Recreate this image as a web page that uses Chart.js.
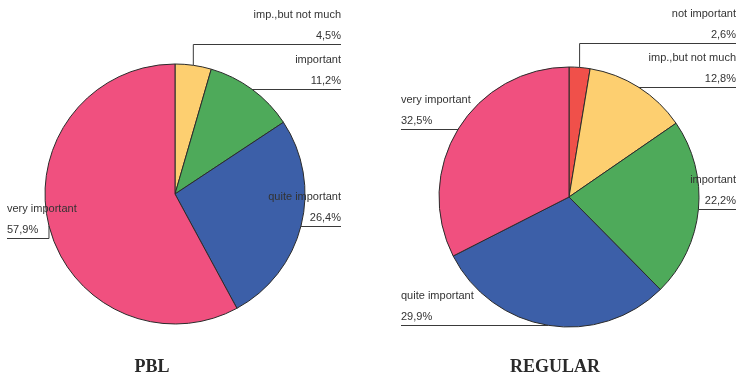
<!DOCTYPE html>
<html>
<head>
<meta charset="utf-8">
<script src="https://cdn.jsdelivr.net/npm/chart.js@4/dist/chart.umd.min.js"></script>
<style>
  body { margin: 0; background: #fff; }
  #wrap { position: relative; width: 741px; height: 379px; }
  canvas { position: absolute; top: 0; }
</style>
</head>
<body>
<div id="wrap">
  <canvas id="pbl" width="370" height="379" style="left:0"></canvas>
  <canvas id="regular" width="371" height="379" style="left:370px"></canvas>
</div>
<script>
// categories, in clockwise order from 12 o'clock
var categories = ['not important', 'imp.,but not much', 'important', 'quite important', 'very important'];
var pblValues = [0, 4.5, 11.2, 26.4, 57.9];
var regularValues = [2.6, 12.8, 22.2, 29.9, 32.5];
var sliceColors = ['#f0504a', '#fdcf70', '#4eaa5a', '#3c5fa8', '#f0507f'];

function fmt(v) {
  return v.toFixed(1).replace('.', ',') + '%';
}

// draws the callout lines + labels and the title under each pie
var leaderLabels = {
  id: 'leaderLabels',
  afterDatasetsDraw: function(chart, args, opts) {
    var ctx = chart.ctx;
    var meta = chart.getDatasetMeta(0);
    var data = chart.data.datasets[0].data;
    ctx.save();
    ctx.font = '11px "Liberation Sans", Arial, sans-serif';
    ctx.fillStyle = '#333';
    ctx.strokeStyle = '#3a3a3a';
    ctx.lineWidth = 1;
    ctx.textBaseline = 'middle';
    meta.data.forEach(function(arc, i) {
      if (!data[i]) return;
      var p = arc.getProps(['x', 'y', 'startAngle', 'endAngle', 'outerRadius'], true);
      var mid = (p.startAngle + p.endAngle) / 2;
      var ax = p.x + Math.cos(mid) * p.outerRadius;
      var ay = p.y + Math.sin(mid) * p.outerRadius;
      var right = ax >= p.x;
      var ly = Math.round(ay + (opts.dy[i] || 0)) + 0.5;
      var edge = right ? opts.rightX : opts.leftX;
      ctx.beginPath();
      ctx.moveTo(ax, ay);
      ctx.lineTo(ax, ly);
      ctx.lineTo(edge, ly);
      ctx.stroke();
      ctx.textAlign = right ? 'right' : 'left';
      ctx.fillText(chart.data.labels[i], edge, ly - 30);
      ctx.fillText(fmt(data[i]), edge, ly - 9);
    });
    ctx.font = 'bold 18px "Liberation Serif", "Times New Roman", serif';
    ctx.fillStyle = '#2a2a2a';
    ctx.textAlign = 'center';
    ctx.fillText(opts.title, opts.titleX, 367);
    ctx.restore();
  }
};

function makePie(id, values, padding, labelOpts) {
  var ctx = document.getElementById(id).getContext('2d');
  return new Chart(ctx, {
    type: 'pie',
    data: {
      labels: categories,
      datasets: [{
        data: values,
        backgroundColor: sliceColors,
        borderColor: '#2b2b2b',
        borderWidth: 1
      }]
    },
    options: {
      responsive: false,
      animation: false,
      radius: 130,
      layout: { padding: padding },
      plugins: {
        legend: { display: false },
        tooltip: { enabled: false },
        leaderLabels: labelOpts
      }
    },
    plugins: [leaderLabels]
  });
}

makePie('pbl', pblValues,
  { left: 45, right: 65, top: 64, bottom: 55 },
  { leftX: 7, rightX: 341, dy: [0, -21, 0, 0, 12], title: 'PBL', titleX: 152 });

makePie('regular', regularValues,
  { left: 69, right: 42, top: 67, bottom: 52 },
  { leftX: 31, rightX: 366, dy: [-24, 0, 0, 0, 0], title: 'REGULAR', titleX: 185 });
</script>
</body>
</html>
